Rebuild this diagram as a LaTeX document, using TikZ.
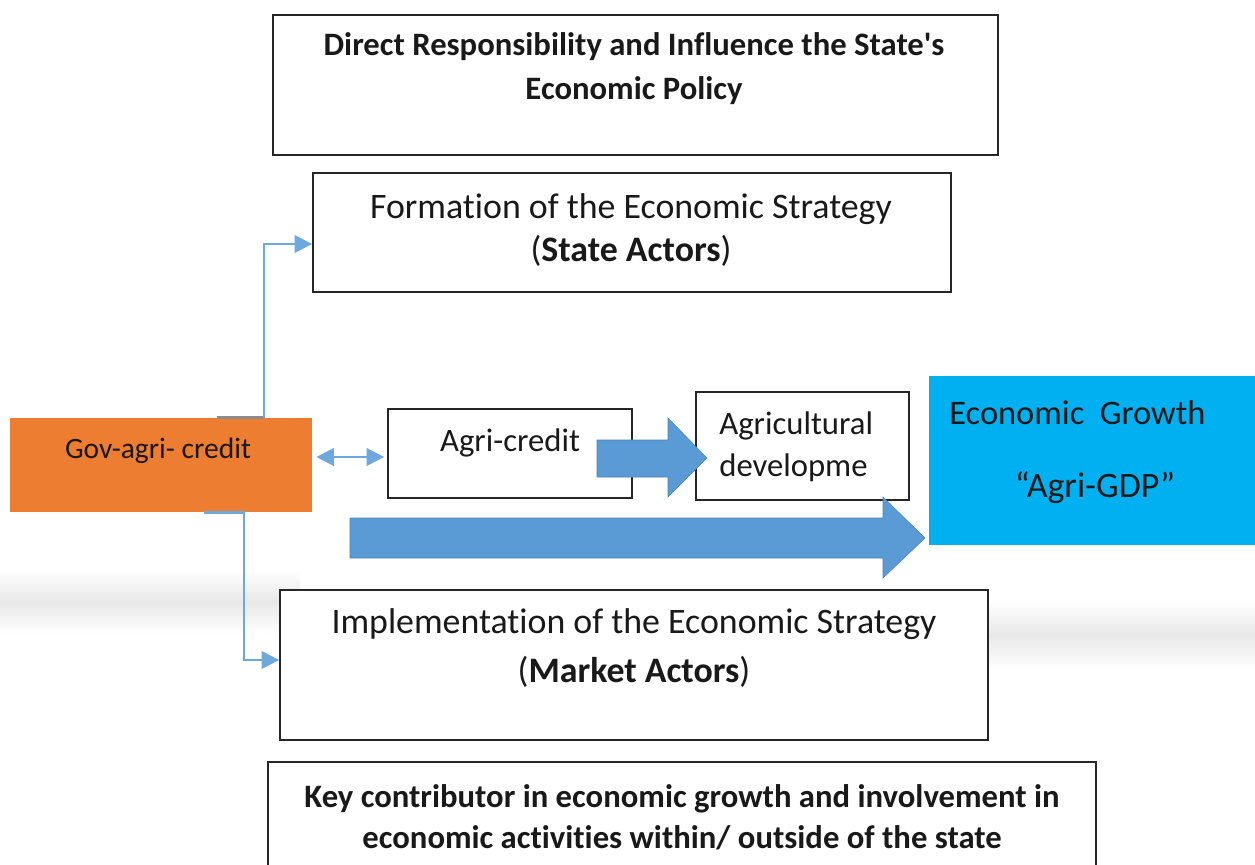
\documentclass[tikz,border=0pt]{standalone}
\usepackage{fontspec}
\setmainfont{Carlito}[Ligatures={NoCommon}]
\usepackage{xcolor}
\usetikzlibrary{fit,arrows.meta}

\definecolor{govorange}{HTML}{ED7D31}
\definecolor{growthcyan}{HTML}{00B0F0}
\definecolor{flowblue}{HTML}{5B9BD5}
\definecolor{linkblue}{HTML}{6FA8DC}

\begin{document}
\begin{tikzpicture}[x=0.02cm,y=-0.02cm,
	frame/.style={draw=black!85,fill=white,line width=1pt,inner sep=0pt},
	filled/.style={inner sep=0pt},
	txt/.style={inner sep=0pt,align=center,text=black!90},
	link/.style={draw=linkblue,line width=1.4pt,-{Triangle[length=10pt,width=10pt]}},
	blockarrow/.style={fill=flowblue,draw=flowblue!85!black,line width=0.3pt}]
	\useasboundingbox (0,0) rectangle (1255,865);
	\clip (0,0) rectangle (1255,865);
	% soft grey band
	\shade[top color=white,bottom color=white,middle color=black!9] (0,570) rectangle (300,634);
	\shade[top color=white,bottom color=white,middle color=black!9] (970,600) rectangle (1255,670);
	% frames
	\node[frame,fit={(273,15) (998,155)}] (policy) {};
	\node[frame,fit={(313,173) (951,292)}] (formation) {};
	\node[filled,fill=govorange,fit={(10,418) (312,512)}] (gov) {};
	\node[frame,fit={(388,409) (632,498)}] (credit) {};
	\node[frame,fit={(696,392) (909,500)}] (agridev) {};
	\node[filled,fill=growthcyan,fit={(929,376) (1256,545)}] (growth) {};
	\node[frame,fit={(280,590) (988,740)}] (implement) {};
	\node[frame,fit={(268,762) (1096,880)}] (contrib) {};
	% texts
	\node[txt,font=\fontsize{18.6}{25}\selectfont\bfseries] (policytxt) at (634,69) {Direct Responsibility and Influence the State\textquotesingle s\\Economic Policy};
	\node[txt,font=\fontsize{20.4}{24.5}\selectfont] (formationtxt) at (631,230) {Formation of the Economic Strategy\\(\textbf{State Actors})};
	\node[txt,font=\fontsize{16.8}{18}\selectfont] (govtxt) at (158,451) {Gov-agri- credit};
	\node[txt,font=\fontsize{18.6}{20}\selectfont] (credittxt) at (510,443) {Agri-credit};
	\node[txt,align=left,anchor=west,font=\fontsize{18.6}{24}\selectfont] (agridevtxt) at (719,447) {Agricultural\\developme};
	\node[txt,anchor=west,font=\fontsize{19.6}{22}\selectfont] (growthtxt) at (949,413) {Economic\ \ Growth};
	\node[txt,font=\fontsize{20.4}{22}\selectfont] (gdptxt) at (1095,488) {“Agri-GDP”};
	\node[txt,font=\fontsize{20.4}{28}\selectfont] (implementtxt) at (634,648) {Implementation of the Economic Strategy\\(\textbf{Market Actors})};
	\node[txt,font=\fontsize{18.6}{23.5}\selectfont\bfseries] (contribtxt) at (682,817) {Key contributor in economic growth and involvement in\\economic activities within/ outside of the state};
	% block arrows
	\draw[blockarrow] (597,440) -- (668,440) -- (668,418) -- (707,458) -- (668,497) -- (668,477) -- (597,477) -- cycle;
	\draw[blockarrow] (350,518) -- (883,518) -- (883,497) -- (925,538) -- (883,578) -- (883,558) -- (350,558) -- cycle;
	% connectors
	\draw[black!45,line width=1.4pt] ([xshift=-47*0.02cm]gov.north -| 264,0) -- (gov.north -| 264,0);
	\draw[link] (gov.north -| 264,0) |- (formation.west |- 0,244);
	\draw[link] (gov.south -| 204,0) -| (244,660) -- (implement.west |- 0,660);
	\draw[link,{Triangle[length=10pt,width=10pt]}-{Triangle[length=10pt,width=10pt]}] (gov.east |- 0,457) ++(4,0) -- ([xshift=-0.06cm]credit.west |- 0,457);
\end{tikzpicture}
\end{document}
